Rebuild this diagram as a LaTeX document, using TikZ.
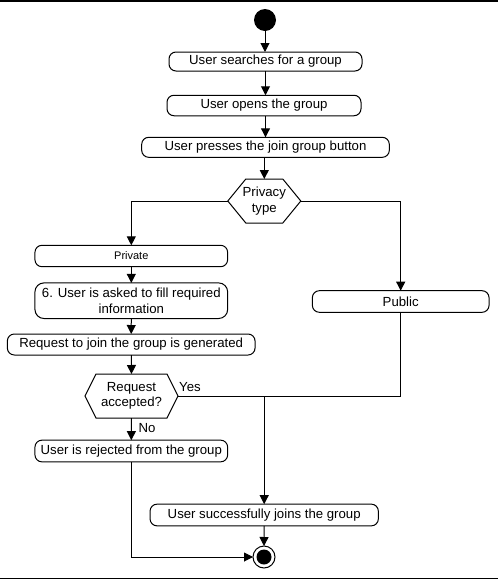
\documentclass[tikz,border=0pt]{standalone}
\usepackage{fontspec}
\setmainfont{Liberation Sans}
\usetikzlibrary{arrows.meta,calc}
\begin{document}
\begin{tikzpicture}[x=1pt,y=-1pt,
  every node/.style={inner sep=0pt,outer sep=0pt,font=\fontsize{13.2}{15.6}\selectfont},
  act/.style={draw,line width=1pt,rounded corners=7pt,align=center},
  hexnode/.style={align=center},
  arr/.style={line width=1pt,-{Triangle[length=9pt,width=9pt]}},
  ln/.style={line width=1pt},
  lbl/.style={font=\fontsize{13.2}{15.6}\selectfont}]
\useasboundingbox (0,0) rectangle (498,579);
\draw[line width=1.5pt] (0,0.75) -- (498,0.75);
\draw[line width=1.5pt] (0,578.25) -- (498,578.25);

\node[circle,fill=black,minimum size=22pt] (start) at (265,20) {};
\node[act,minimum width=193pt,minimum height=19pt] (b1) at (265.5,61.5) {User searches for a group};
\node[act,minimum width=194pt,minimum height=20.5pt] (b2) at (264,105.5) {User opens the group};
\node[act,minimum width=247.6pt,minimum height=20pt] (b3) at (265.5,147.3) {User presses the join group button};
\node[hexnode,minimum width=73pt,minimum height=44pt] (privacy) at (264.3,201) {Privacy\\type};
\draw[ln] (privacy.west) -- ([xshift=18pt]privacy.north west) -- ([xshift=-18pt]privacy.north east) -- (privacy.east) -- ([xshift=-18pt]privacy.south east) -- ([xshift=18pt]privacy.south west) -- cycle;

\node[act,minimum width=192.7pt,minimum height=21.4pt,font=\fontsize{11}{13}\selectfont] (private) at (131.3,256) {Private};
\node[act,minimum width=192.7pt,minimum height=35.6pt,rounded corners=9pt] (ask) at (131.3,300.7) {6. User is asked to fill required\\information};
\node[act,minimum width=247.7pt,minimum height=21pt] (req) at (131.2,344.5) {Request to join the group is generated};
\node[hexnode,minimum width=93pt,minimum height=44pt] (ra) at (131.5,396) {Request\\accepted?};
\draw[ln] (ra.west) -- ([xshift=11pt]ra.north west) -- ([xshift=-11pt]ra.north east) -- (ra.east) -- ([xshift=-11pt]ra.south east) -- ([xshift=11pt]ra.south west) -- cycle;
\node[act,minimum width=192.7pt,minimum height=21.7pt] (rej) at (131.3,451) {User is rejected from the group};

\node[act,minimum width=176.7pt,minimum height=21.6pt] (public) at (400.7,301.5) {Public};
\node[act,minimum width=228.3pt,minimum height=21.7pt] (success) at (264.2,515) {User successfully joins the group};

\node[circle,draw,line width=1pt,minimum size=22pt] (end) at (264,557) {};
\node[circle,fill=black,minimum size=15pt] (endin) at (264,557) {};

\coordinate (jr) at (400.7,396);
\coordinate (jm) at (264.2,396);

\draw[arr] (start) -- (start |- b1.north);
\draw[arr] (b1) -- (b1.south |- b2.north);
\draw[arr] (b2.south -| b1.south) -- (b1.south |- b3.north);
\draw[arr] (b3.south -| privacy.north) -- (privacy.north);
\draw[arr] (privacy.west) -| (private.north);
\draw[arr] (privacy.east) -| (public.north);
\draw[arr] (private) -- (ask);
\draw[arr] (ask) -- (req);
\draw[arr] (req) -- (ra.north);
\draw[arr] (ra.south) -- (rej.north);
\draw[ln] (ra.east) -- (jr) -- (public.south);
\draw[arr] (jm) -- (success.north);
\draw[arr] (success) -- (end.north);
\draw[arr] (rej.south) |- (end.west);

\node[lbl] (yes) at (190,386.7) {Yes};
\node[lbl] (no) at (147,427.7) {No};
\end{tikzpicture}
\end{document}
